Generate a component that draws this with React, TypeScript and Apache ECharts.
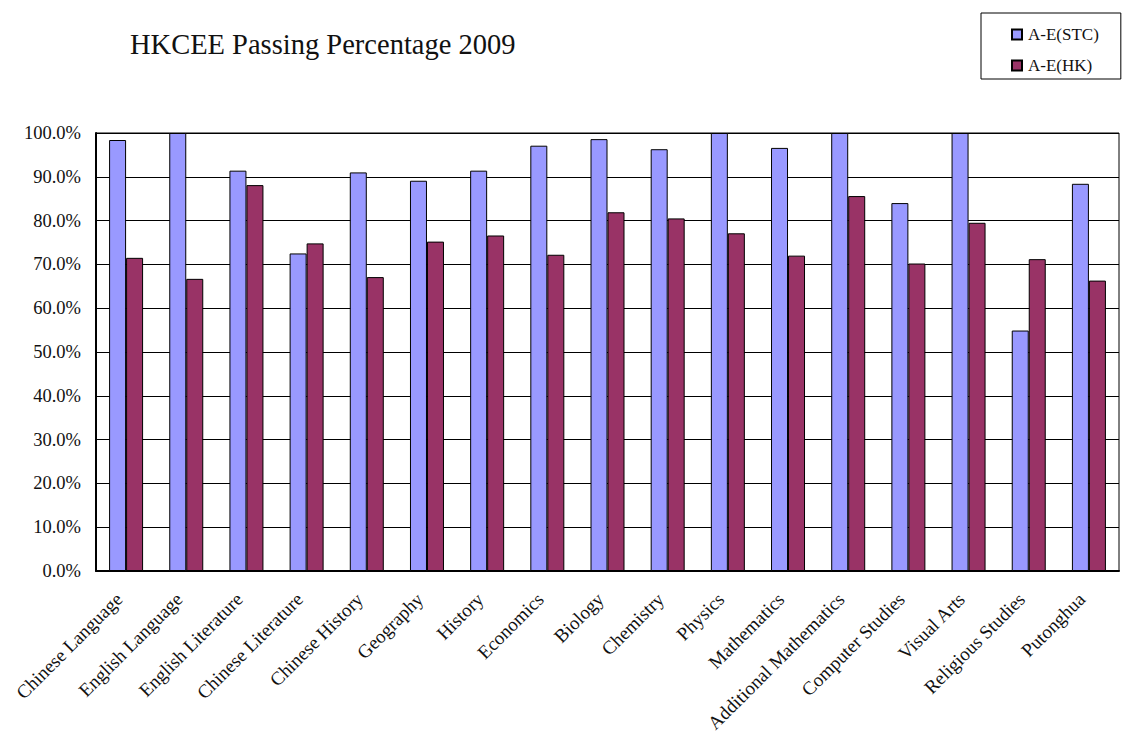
import React, { useEffect, useRef } from "react";
import * as echarts from "echarts";

const subjects = [
  "Chinese Language",
  "English Language",
  "English Literature",
  "Chinese Literature",
  "Chinese History",
  "Geography",
  "History",
  "Economics",
  "Biology",
  "Chemistry",
  "Physics",
  "Mathematics",
  "Additional Mathematics",
  "Computer Studies",
  "Visual Arts",
  "Religious Studies",
  "Putonghua",
];

// Pass rates (%) for grades A-E
const stcPass = [98.4, 100, 91.4, 72.5, 91.0, 89.1, 91.4, 97.1, 98.6, 96.3, 100, 96.6, 100, 84.0, 100, 54.9, 88.4];
const hkPass = [71.5, 66.7, 88.1, 74.8, 67.1, 75.2, 76.6, 72.2, 81.9, 80.5, 77.1, 72.0, 85.6, 70.2, 79.5, 71.2, 66.3];

const seriesNames = ["A-E(STC)", "A-E(HK)"];
const titleText = "HKCEE Passing Percentage 2009";

const FONT = "'Liberation Serif', 'DejaVu Serif', serif";

export default function App() {
  const ref = useRef<HTMLDivElement>(null);

  useEffect(() => {
    if (!ref.current) return;
    const chart = echarts.init(ref.current, null, { renderer: "svg" });
    chart.setOption({
      animation: false,
      backgroundColor: "#ffffff",
      textStyle: { fontFamily: FONT },
      title: {
        text: titleText,
        left: 130,
        top: 30,
        padding: 0,
        textStyle: {
          fontFamily: FONT,
          fontSize: 28.5,
          fontWeight: "normal",
          color: "#111",
        },
      },
      legend: {
        orient: "vertical",
        left: 981,
        top: 13,
        padding: [13, 22, 5, 30],
        itemGap: 14,
        itemWidth: 10,
        itemHeight: 10,
        borderColor: "#000",
        borderWidth: 1,
        icon: "rect",
        textStyle: { fontFamily: FONT, fontSize: 17, color: "#111", padding: [0, 0, 0, 1] },
        data: seriesNames,
      },
      grid: {
        left: 96,
        right: 10,
        top: 133,
        bottom: 171,
        show: true,
        borderColor: "#000",
        borderWidth: 1,
        containLabel: false,
      },
      xAxis: {
        type: "category",
        data: subjects,
        boundaryGap: true,
        axisLine: { lineStyle: { color: "#000", width: 2 } },
        axisTick: { inside: true, length: 5, lineStyle: { color: "#000" } },
        axisLabel: {
          interval: 0,
          rotate: 45,
          margin: 18,
          padding: [0, 10, 0, 0],
          fontFamily: FONT,
          fontSize: 19,
          color: "#111",
        },
      },
      yAxis: {
        type: "value",
        min: 0,
        max: 100,
        interval: 10,
        axisLine: { show: true, lineStyle: { color: "#000", width: 2 } },
        axisTick: { show: true, inside: true, length: 5, lineStyle: { color: "#000" } },
        splitLine: { show: true, lineStyle: { color: "#000", width: 1 } },
        axisLabel: {
          margin: 15,
          fontFamily: FONT,
          fontSize: 18.5,
          color: "#111",
          formatter: (v: number) => v.toFixed(1) + "%",
        },
      },
      series: [
        {
          name: seriesNames[0],
          type: "bar",
          data: stcPass,
          barWidth: 17,
          barGap: "0%",
          itemStyle: { color: "#9999FF", borderColor: "#000", borderWidth: 1 },
        },
        {
          name: seriesNames[1],
          type: "bar",
          data: hkPass,
          barWidth: 17,
          barGap: "0%",
          itemStyle: { color: "#993366", borderColor: "#000", borderWidth: 1 },
        },
      ],
    });
    return () => chart.dispose();
  }, []);

  return (
    <div
      ref={ref}
      style={{ position: "absolute", left: 0, top: 0, width: 1129, height: 742 }}
    />
  );
}
